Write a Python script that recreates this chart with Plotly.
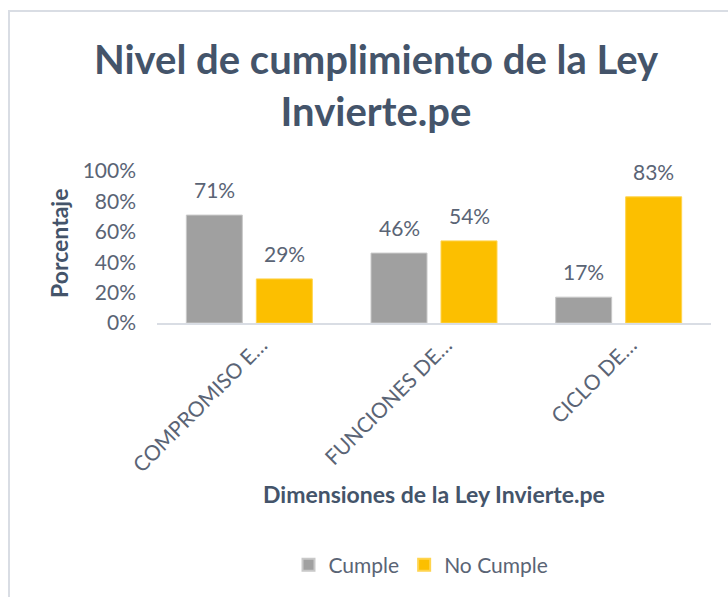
import plotly.graph_objects as go

categories = ["COMPROMISO E…", "FUNCIONES DE…", "CICLO DE…"]
cumple = [0.71, 0.46, 0.17]
no_cumple = [0.29, 0.54, 0.83]
series_names = ["Cumple", "No Cumple"]
y_ticks = [0, 0.2, 0.4, 0.6, 0.8, 1.0]

FONT = "Lato"
TXT = "#5a6475"
TITLE_C = "#44546a"

# plot-area geometry in px
L, R, T, B = 157, 711, 171, 323
W, H = 728, 597
pw, ph = R - L, B - T


def px_x(px):
    return (px - L) / pw


def px_y(py):
    return (B - py) / ph


fig = go.Figure()
fig.add_trace(go.Bar(
    name=series_names[0], x=categories, y=cumple,
    marker=dict(color="#a0a0a0", line=dict(color="#c8c8c8", width=1)),
))
fig.add_trace(go.Bar(
    name=series_names[1], x=categories, y=no_cumple,
    marker=dict(color="#fcbf00", line=dict(color="#ffd44d", width=1)),
))

annotations = []
for vals, shift in ((cumple, -35), (no_cumple, 35)):
    for c, v in zip(categories, vals):
        annotations.append(dict(
            x=c, y=v, xref="x", yref="y", text=f"{round(v*100)}%",
            showarrow=False, xshift=shift, yanchor="bottom", yshift=11,
            font=dict(family=FONT, size=21, color=TXT),
        ))

annotations.append(dict(
    x=px_x(434), y=px_y(494), xref="paper", yref="paper",
    text="<b>Dimensiones de la Ley Invierte.pe</b>", showarrow=False,
    xanchor="center", yanchor="middle",
    font=dict(family=FONT, size=23, color=TITLE_C),
))
annotations.append(dict(
    x=px_x(59), y=px_y(244), xref="paper", yref="paper",
    text="<b>Porcentaje</b>", showarrow=False, textangle=-90,
    xanchor="center", yanchor="middle",
    font=dict(family=FONT, size=23, color=TITLE_C),
))

shapes = [
    dict(type="line", xref="paper", yref="paper",
         x0=px_x(8), x1=px_x(740), y0=px_y(11), y1=px_y(11),
         line=dict(color="#d9dde4", width=2)),
    dict(type="line", xref="paper", yref="paper",
         x0=px_x(9), x1=px_x(9), y0=px_y(11), y1=px_y(610),
         line=dict(color="#d9dde4", width=2)),
]

fig.update_layout(
    width=W, height=H,
    margin=dict(l=L, r=W - R, t=T, b=H - B, pad=0),
    paper_bgcolor="white", plot_bgcolor="white",
    barmode="group", bargap=0.242, bargroupgap=0.2,
    title=dict(
        text="<b>Nivel de cumplimiento de la Ley<br>Invierte.pe</b>",
        x=376 / W, xanchor="center", y=1 - 74 / H, yanchor="middle",
        font=dict(family=FONT, size=40, color=TITLE_C),
    ),
    font=dict(family=FONT, size=20, color=TXT),
    showlegend=True,
    legend=dict(
        orientation="h", x=px_x(421), xanchor="center",
        y=px_y(565), yanchor="middle",
        font=dict(family=FONT, size=21, color=TXT),
        itemsizing="constant",
    ),
    annotations=annotations,
    shapes=shapes,
)
fig.update_xaxes(
    showline=True, linecolor="#d9dde4", linewidth=1.5,
    showgrid=False, ticks="", tickangle=-45,
    tickfont=dict(family=FONT, size=21, color=TXT),
    ticklabelshift=12, ticklabelstandoff=0,
)
fig.update_yaxes(
    range=[0, 1], tickvals=y_ticks, tickformat=".0%",
    showgrid=False, zeroline=False, showline=False, ticks="",
    tickfont=dict(family=FONT, size=21, color=TXT),
    ticklabelstandoff=20,
)

fig.write_html("out.html")
